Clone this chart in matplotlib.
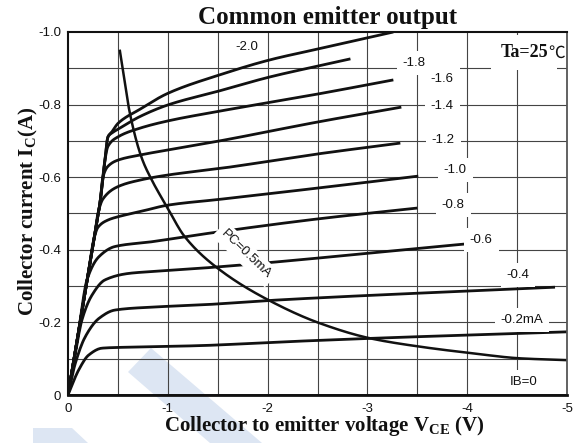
import numpy as np
import matplotlib
matplotlib.use("Agg")
import matplotlib.pyplot as plt
from matplotlib.patches import Polygon

# ---------------- data (magnitudes; plotted as negative values) ----------------
VCE_B20 = [0, 0.10, 0.20, 0.275, 0.32, 0.37, 0.40, 0.44, 0.50, 0.72, 1.00, 1.52, 2.02, 2.50, 3.26]
IC_B20 = [0, 0.165, 0.33, 0.455, 0.528, 0.647, 0.711, 0.725, 0.748, 0.787, 0.831, 0.882, 0.923, 0.953, 1.00]

VCE_B18 = [0, 0.10, 0.20, 0.275, 0.32, 0.37, 0.40, 0.44, 0.50, 0.72, 1.00, 1.52, 2.02, 2.50, 2.83]
IC_B18 = [0, 0.165, 0.33, 0.455, 0.528, 0.647, 0.711, 0.722, 0.732, 0.767, 0.799, 0.838, 0.876, 0.906, 0.926]

VCE_B16 = [0, 0.10, 0.20, 0.275, 0.32, 0.37, 0.40, 0.50, 0.72, 1.00, 1.52, 2.50, 3.26]
IC_B16 = [0, 0.165, 0.33, 0.455, 0.528, 0.647, 0.685, 0.711, 0.735, 0.755, 0.782, 0.829, 0.868]

VCE_B14 = [0, 0.10, 0.20, 0.275, 0.32, 0.35, 0.40, 0.50, 0.72, 1.00, 1.52, 2.50, 3.34]
IC_B14 = [0, 0.165, 0.33, 0.455, 0.528, 0.600, 0.630, 0.647, 0.661, 0.675, 0.700, 0.752, 0.793]

VCE_B12 = [0, 0.10, 0.20, 0.275, 0.30, 0.35, 0.50, 0.72, 1.00, 1.52, 2.50, 3.33]
IC_B12 = [0, 0.165, 0.33, 0.455, 0.50, 0.54, 0.574, 0.592, 0.606, 0.624, 0.664, 0.694]

VCE_B10 = [0, 0.10, 0.20, 0.26, 0.30, 0.40, 0.50, 0.72, 1.00, 1.52, 2.50, 3.51]
IC_B10 = [0, 0.165, 0.33, 0.43, 0.462, 0.482, 0.491, 0.505, 0.523, 0.539, 0.570, 0.603]

VCE_B08 = [0, 0.10, 0.19, 0.31, 0.47, 0.835, 1.32, 2.50, 3.50]
IC_B08 = [0, 0.165, 0.317, 0.381, 0.409, 0.422, 0.442, 0.485, 0.515]

VCE_B06 = [0, 0.057, 0.14, 0.24, 0.37, 0.61, 0.835, 1.32, 3.98]
IC_B06 = [0, 0.087, 0.207, 0.275, 0.317, 0.335, 0.340, 0.349, 0.416]

VCE_B04 = [0, 0.073, 0.174, 0.31, 0.47, 0.835, 1.32, 2.12, 4.88]
IC_B04 = [0, 0.087, 0.161, 0.211, 0.234, 0.242, 0.248, 0.262, 0.297]

VCE_B02 = [0, 0.107, 0.207, 0.34, 0.50, 0.835, 1.32, 2.12, 3.03, 5.0]
IC_B02 = [0, 0.069, 0.110, 0.129, 0.131, 0.133, 0.136, 0.146, 0.156, 0.174]

VCE_B00 = [0, 5.0]
IC_B00 = [0, 0]

VCE_PC = [0.52, 0.55, 0.62, 0.74, 0.84, 0.99, 1.17, 1.52, 2.04, 2.52, 3.03, 3.53, 4.05, 4.53, 5.0]
IC_PC = [0.948, 0.895, 0.776, 0.652, 0.592, 0.519, 0.436, 0.345, 0.257, 0.198, 0.156, 0.133, 0.115, 0.101, 0.096]

curve_labels = ["-2.0", "-1.8", "-1.6", "-1.4", "-1.2", "-1.0", "-0.8", "-0.6", "-0.4", "-0.2mA", "IB=0"]
label_V = [1.79, 3.47, 3.75, 3.75, 3.76, 3.88, 3.86, 4.14, 4.51, 4.55, 4.57]
label_I = [0.959, 0.915, 0.870, 0.796, 0.702, 0.620, 0.523, 0.427, 0.331, 0.207, 0.036]

x_ticks = [0, -1, -2, -3, -4, -5]
x_ticklabels = ["0", "-1", "-2", "-3", "-4", "-5"]
y_ticks = [0, -0.2, -0.4, -0.6, -0.8, -1.0]
y_ticklabels = ["0", "-0.2", "-0.4", "-0.6", "-0.8", "-1.0"]


def pchip(x, y, xs):
    x = np.asarray(x, float)
    y = np.asarray(y, float)
    h = np.diff(x)
    d = np.diff(y) / h
    n = len(x)
    m = np.zeros(n)
    m[0] = d[0]
    m[-1] = d[-1]
    for k in range(1, n - 1):
        if d[k - 1] * d[k] > 0:
            w1 = 2 * h[k] + h[k - 1]
            w2 = h[k] + 2 * h[k - 1]
            m[k] = (w1 + w2) / (w1 / d[k - 1] + w2 / d[k])
    idx = np.clip(np.searchsorted(x, xs) - 1, 0, n - 2)
    t = (xs - x[idx]) / h[idx]
    h00 = 2 * t**3 - 3 * t**2 + 1
    h10 = t**3 - 2 * t**2 + t
    h01 = -2 * t**3 + 3 * t**2
    h11 = t**3 - t**2
    return h00 * y[idx] + h10 * h[idx] * m[idx] + h01 * y[idx + 1] + h11 * h[idx] * m[idx + 1]


def smooth(v, i, n=400):
    v = np.asarray(v, float)
    xs = np.linspace(v[0], v[-1], n)
    return xs, pchip(v, i, xs)


plt.rcParams["mathtext.fontset"] = "custom"
plt.rcParams["mathtext.bf"] = "Liberation Serif:bold"
plt.rcParams["mathtext.rm"] = "Liberation Serif:bold"

W, H = 579, 443
fig = plt.figure(figsize=(W / 100, H / 100), dpi=100)
fig.patch.set_facecolor("white")

# light-blue watermark shapes (figure pixel coords)
def px(pts):
    return [(x / W, 1 - y / H) for x, y in pts]

for poly in [
    [(128, 372), (151, 348), (262, 443), (210, 443)],
    [(33, 428), (72, 428), (88, 443), (33, 443)],
]:
    fig.patches.append(Polygon(px(poly), closed=True, transform=fig.transFigure,
                               facecolor="#dde6f3", edgecolor="none", zorder=0))

ax = fig.add_axes([68 / W, 1 - 395 / H, (567 - 68) / W, (395 - 32) / H])
ax.set_zorder(2)
ax.set_facecolor("none")
ax.set_xlim(0, -5)
ax.set_ylim(0, -1.0)

# grid
for gx in np.arange(0.5, 5.0, 0.5):
    ax.axvline(-gx, color="#444444", lw=0.8, zorder=1)
for gy in np.arange(0.1, 1.0, 0.1):
    ax.axhline(-gy, color="#444444", lw=0.8, zorder=1)

curves = [(VCE_B20, IC_B20), (VCE_B18, IC_B18), (VCE_B16, IC_B16), (VCE_B14, IC_B14),
          (VCE_B12, IC_B12), (VCE_B10, IC_B10), (VCE_B08, IC_B08), (VCE_B06, IC_B06),
          (VCE_B04, IC_B04), (VCE_B02, IC_B02)]
for v, i in curves:
    xs, ys = smooth(v, i)
    ax.plot(-xs, -ys, color="#111111", lw=2.0, solid_capstyle="butt", zorder=3)
ax.plot(-np.asarray(VCE_B00), -np.asarray(IC_B00), color="#111111", lw=2.0, zorder=3)

xs, ys = smooth(VCE_PC, IC_PC)
ax.plot(-xs, -ys, color="#111111", lw=1.8, zorder=3)

lab_font = dict(family="Liberation Sans", fontsize=9.5, color="#111111")
box = dict(boxstyle="square,pad=0.45", facecolor="white", edgecolor="none")
for t, v, i in zip(curve_labels, label_V, label_I):
    ax.text(-v, -i, t, ha="center", va="center", bbox=box, zorder=5, **lab_font)

ax.text(-1.78, -0.388, "PC=0.5mA", rotation=-44, rotation_mode="anchor",
        ha="center", va="center", bbox=dict(boxstyle="square,pad=0.35", facecolor="white",
                                            edgecolor="none"), zorder=5, **lab_font)

# Ta=25 C
ax.text(-4.81, -0.930, "Ta=25", ha="right", va="baseline", family="Liberation Serif",
        fontweight="bold", fontsize=13, color="#111111", zorder=6,
        bbox=dict(boxstyle="square,pad=0.5", facecolor="white", edgecolor="none"))
ax.text(-4.815, -0.930, "\u2103", ha="left", va="baseline", family=["Noto Sans CJK SC", "DejaVu Sans"],
        fontsize=12, color="#111111", zorder=6)

ax.set_xticks(x_ticks)
ax.set_xticklabels(x_ticklabels)
ax.set_yticks(y_ticks)
ax.set_yticklabels(y_ticklabels)
ax.tick_params(axis="x", length=0, pad=6)
ax.tick_params(axis="y", length=0, pad=5)
for lbl in ax.get_xticklabels() + ax.get_yticklabels():
    lbl.set_fontfamily("Liberation Sans")
    lbl.set_fontsize(9.5)
    lbl.set_color("#111111")

for s in ["left", "top"]:
    ax.spines[s].set_linewidth(1.5)
    ax.spines[s].set_color("#111111")
ax.spines["bottom"].set_linewidth(2.0)
ax.spines["bottom"].set_color("#111111")
ax.spines["right"].set_linewidth(1.3)
ax.spines["right"].set_color("#555555")
for s in ax.spines.values():
    s.set_zorder(7)

fig.text(327.5 / W, 1 - 24 / H, "Common emitter output", ha="center", va="baseline",
         family="Liberation Serif", fontweight="bold", fontsize=18, color="#111111")
fig.text(324 / W, 1 - 431.5 / H, r"Collector to emitter voltage $\mathbf{V_{CE}}$ (V)",
         ha="center", va="baseline", family="Liberation Serif", fontweight="bold",
         fontsize=15, color="#111111")
fig.text(33 / W, 1 - 211 / H, r"Collector current $\mathbf{I_{C}}$(A)", rotation=90,
         ha="center", va="baseline", rotation_mode="anchor", family="Liberation Serif",
         fontweight="bold", fontsize=15, color="#111111")

fig.savefig("out.png", dpi=100, facecolor="white")
